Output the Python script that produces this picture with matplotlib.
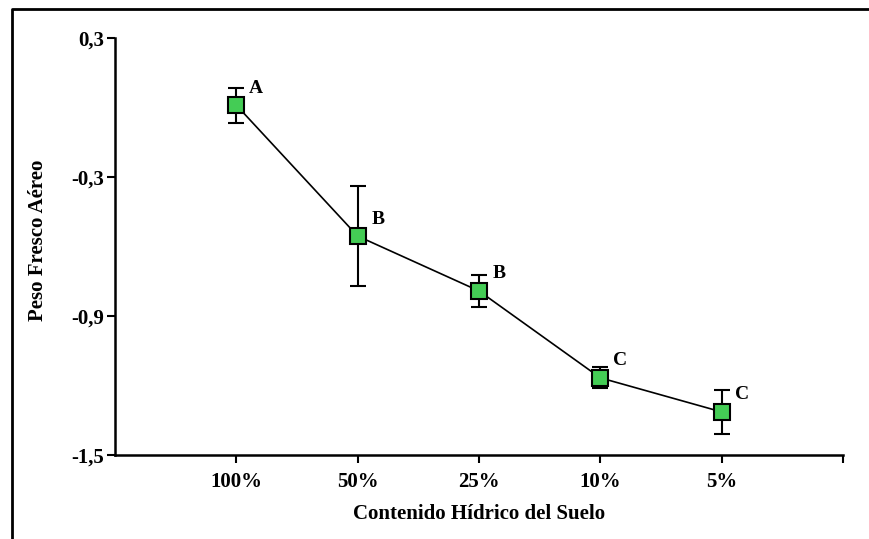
import numpy as np
import matplotlib.pyplot as plt
from matplotlib.lines import Line2D

categorias = ['100%', '50%', '25%', '10%', '5%']
peso = [0.01, -0.555, -0.792, -1.167, -1.314]
error = [0.075, 0.215, 0.07, 0.045, 0.095]
letras = ['A', 'B', 'B', 'C', 'C']

plt.rcParams['font.family'] = ['Liberation Serif', 'DejaVu Serif']
plt.rcParams['font.weight'] = 'bold'

fig = plt.figure(figsize=(8.69, 5.39), dpi=100)
ax = fig.add_axes([115/869, (539-455)/539, (843-115)/869, (455-38)/539])

x = np.arange(1, len(categorias) + 1)
ax.errorbar(x, peso, yerr=error, color='black', lw=1.2, capsize=6, capthick=1.5,
            elinewidth=1.5, marker='s', markersize=12, markerfacecolor='#44cc55',
            markeredgecolor='black', markeredgewidth=1.5, zorder=3)

for xi, yi, l in zip(x, peso, letras):
    ax.annotate(l, (xi, yi), xytext=(20, 17), textcoords='offset pixels',
                ha='center', va='center', fontsize=14, fontweight='bold')

ax.set_xlim(0, 6)
ax.set_ylim(-1.5, 0.3)
ax.set_xticks(list(x) + [6])
ax.set_xticklabels(categorias + [''])
ax.set_yticks([0.3, -0.3, -0.9, -1.5])
ax.set_yticklabels(['0,3', '-0,3', '-0,9', '-1,5'])
ax.tick_params(axis='both', labelsize=15, width=1.5, length=6, direction='out')
ax.tick_params(axis='x', pad=6)
ax.tick_params(axis='y', pad=2)

for s in ['top', 'right']:
    ax.spines[s].set_visible(False)
for s in ['left', 'bottom']:
    ax.spines[s].set_linewidth(1.8)

ax.set_xlabel('Contenido Hídrico del Suelo', fontsize=15, fontweight='bold', labelpad=9)
ax.set_ylabel('Peso Fresco Aéreo', fontsize=15, fontweight='bold')
ax.yaxis.set_label_coords(-0.092, 0.516)

# marco de la figura (solo borde superior e izquierdo visibles)
fig.add_artist(Line2D([12/869, 12/869, 1.0], [0.0, 1 - 9/539, 1 - 9/539],
                      transform=fig.transFigure, color='black', lw=2))

fig.savefig('out.png', dpi=100)
